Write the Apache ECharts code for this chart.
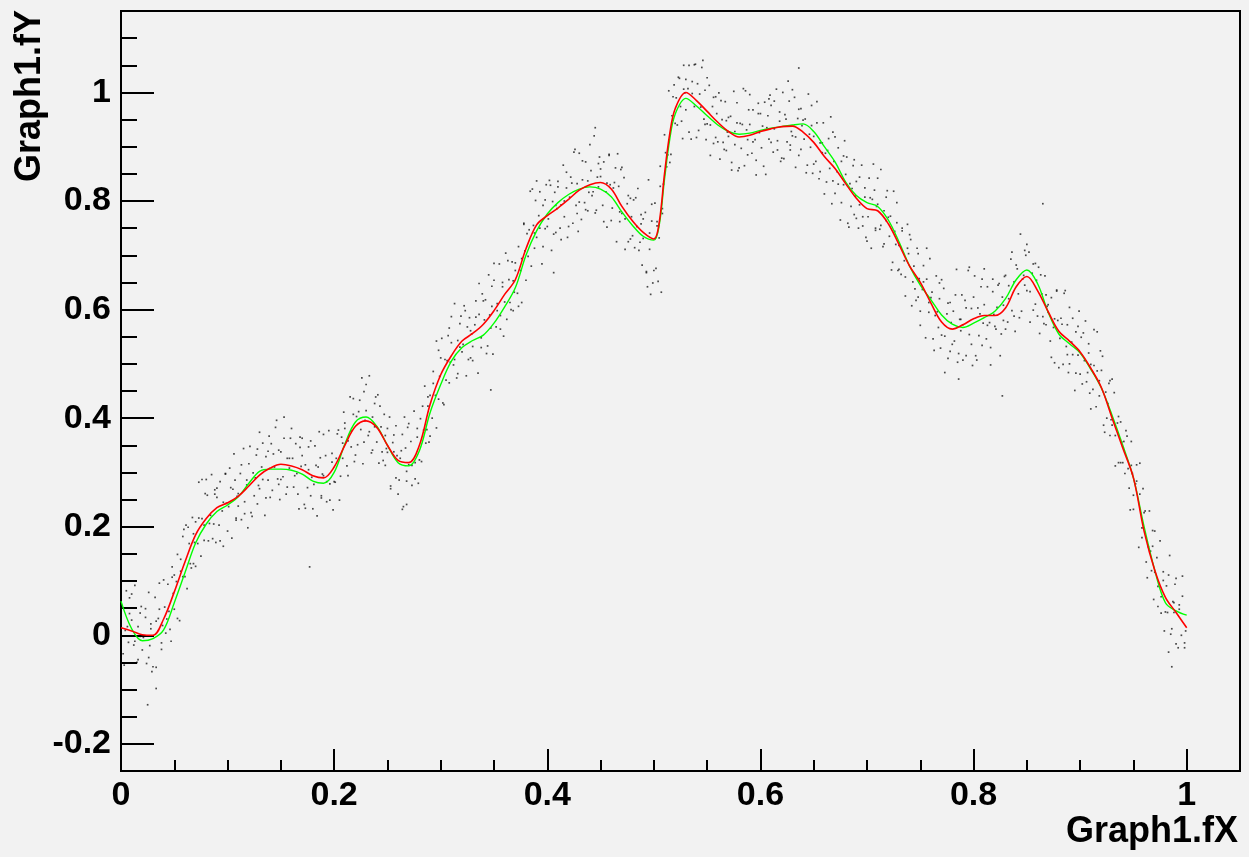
<!DOCTYPE html>
<html>
<head>
<meta charset="utf-8">
<script src="https://cdn.jsdelivr.net/npm/echarts@6/dist/echarts.min.js"></script>
<style>
html,body{margin:0;padding:0;background:#f2f2f2;}
#c{width:1249px;height:857px;}
</style>
</head>
<body>
<div id="c"></div>
<script>
// ---- data ----
const curveX = [0,0.01,0.02,0.03,0.04,0.05,0.06,0.07,0.08,0.09,
0.10,0.11,0.12,0.13,0.14,0.15,0.16,0.17,0.18,0.19,
0.20,0.21,0.22,0.23,0.24,0.25,0.26,0.27,0.28,0.29,
0.30,0.31,0.32,0.33,0.34,0.35,0.36,0.37,0.38,0.39,
0.40,0.41,0.42,0.43,0.44,0.45,0.46,0.47,0.48,0.49,
0.50,0.505,0.51,0.515,0.52,0.53,0.54,0.55,0.56,0.57,0.58,
0.59,0.60,0.61,0.62,0.63,0.64,0.65,0.66,0.67,0.68,0.69,
0.70,0.71,0.72,0.73,0.74,0.75,0.76,0.77,0.78,0.79,
0.80,0.81,0.82,0.83,0.84,0.85,0.86,0.87,0.88,0.89,
0.90,0.91,0.92,0.93,0.94,0.95,0.96,0.97,0.98,0.99,1.00];

const redY = [0.014,0.008,0.001,0.000,0.030,0.080,0.135,0.185,0.215,0.235,
0.244,0.256,0.275,0.295,0.308,0.315,0.312,0.305,0.294,0.290,
0.310,0.350,0.385,0.395,0.383,0.350,0.322,0.318,0.350,0.425,
0.480,0.515,0.542,0.556,0.573,0.598,0.628,0.655,0.712,0.756,
0.773,0.787,0.803,0.820,0.830,0.834,0.822,0.790,0.763,0.742,
0.730,0.760,0.850,0.925,0.970,1.000,0.985,0.965,0.945,0.928,0.918,
0.921,0.928,0.933,0.937,0.938,0.927,0.908,0.882,0.860,0.832,0.805,
0.786,0.782,0.758,0.720,0.680,0.650,0.612,0.577,0.564,0.572,
0.583,0.589,0.589,0.603,0.642,0.661,0.635,0.596,0.560,0.542,
0.522,0.492,0.456,0.400,0.345,0.290,0.192,0.120,0.070,0.042,0.014];

const greenY = [0.063,0.012,-0.010,-0.006,0.010,0.060,0.115,0.170,0.205,0.228,
0.240,0.255,0.280,0.302,0.306,0.306,0.304,0.297,0.284,0.280,
0.300,0.352,0.393,0.402,0.385,0.350,0.318,0.312,0.340,0.410,
0.462,0.505,0.530,0.543,0.553,0.575,0.605,0.640,0.700,0.745,
0.776,0.797,0.812,0.822,0.826,0.822,0.808,0.780,0.755,0.735,
0.728,0.755,0.840,0.915,0.960,0.989,0.975,0.957,0.940,0.928,0.923,
0.925,0.930,0.934,0.937,0.940,0.942,0.928,0.900,0.872,0.835,0.810,
0.797,0.790,0.765,0.725,0.680,0.645,0.618,0.590,0.573,0.567,
0.575,0.585,0.597,0.620,0.655,0.673,0.648,0.595,0.555,0.537,
0.520,0.490,0.455,0.405,0.350,0.290,0.200,0.120,0.060,0.045,0.037];

const dots = [
[0.001,0.052],[0.002,-0.034],[0.004,0.009],[0.005,0.082],[0.007,-0.013],[0.008,0.040],[0.009,-0.051],
[0.010,0.028],[0.012,-0.018],[0.013,0.092],[0.015,-0.050],[0.016,0.016],[0.018,-0.002],[0.019,0.053],
[0.021,-0.004],[0.023,0.033],[0.024,-0.052],[0.026,0.079],[0.027,-0.019],[0.028,0.021],[0.029,-0.067],[0.025,-0.128],
[0.030,-0.001],[0.032,0.070],[0.033,-0.059],[0.035,0.031],[0.036,0.048],[0.038,-0.026],[0.039,0.018],[0.033,-0.098],
[0.041,0.052],[0.042,0.004],[0.044,0.094],[0.045,0.044],[0.047,-0.011],[0.048,0.126],[0.049,0.077],
[0.050,0.048],[0.052,0.099],[0.053,0.149],[0.055,0.027],[0.056,0.140],[0.058,0.108],[0.059,0.195],
[0.061,0.203],[0.062,0.086],[0.064,0.169],[0.065,0.132],[0.067,0.217],[0.068,0.132],[0.069,0.171],
[0.070,0.209],[0.072,0.169],[0.073,0.282],[0.075,0.146],[0.076,0.215],[0.078,0.203],[0.079,0.261],
[0.081,0.258],[0.082,0.174],[0.084,0.221],[0.085,0.296],[0.087,0.205],[0.088,0.260],[0.089,0.171],
[0.090,0.254],[0.092,0.203],[0.093,0.283],[0.095,0.229],[0.096,0.164],[0.098,0.297],[0.099,0.243],
[0.101,0.237],[0.102,0.308],[0.104,0.179],[0.105,0.269],[0.107,0.286],[0.108,0.212],[0.109,0.256],
[0.110,0.261],[0.112,0.298],[0.113,0.213],[0.115,0.344],[0.116,0.246],[0.118,0.286],[0.119,0.198],
[0.121,0.348],[0.122,0.226],[0.124,0.299],[0.125,0.257],[0.127,0.332],[0.128,0.242],[0.129,0.276],
[0.130,0.270],[0.132,0.310],[0.133,0.354],[0.135,0.221],[0.136,0.329],[0.138,0.286],[0.139,0.367],
[0.141,0.353],[0.142,0.267],[0.144,0.310],[0.145,0.383],[0.147,0.288],[0.148,0.341],[0.149,0.250],
[0.150,0.338],[0.152,0.292],[0.153,0.402],[0.155,0.260],[0.156,0.326],[0.158,0.308],[0.159,0.363],
[0.161,0.326],[0.162,0.273],[0.164,0.353],[0.165,0.298],[0.167,0.233],[0.168,0.365],[0.169,0.311],
[0.170,0.363],[0.172,0.241],[0.173,0.314],[0.175,0.272],[0.176,0.347],[0.178,0.257],[0.179,0.291],[0.177,0.126],
[0.181,0.278],[0.182,0.349],[0.184,0.220],[0.185,0.310],[0.187,0.327],[0.188,0.253],[0.189,0.297],
[0.190,0.294],[0.192,0.331],[0.193,0.246],[0.195,0.377],[0.196,0.279],[0.198,0.319],[0.199,0.231],
[0.201,0.282],[0.202,0.326],[0.204,0.378],[0.205,0.249],[0.207,0.365],[0.208,0.326],[0.209,0.411],
[0.210,0.391],[0.212,0.312],[0.213,0.358],[0.215,0.439],[0.216,0.347],[0.218,0.407],[0.219,0.320],
[0.221,0.403],[0.222,0.351],[0.224,0.433],[0.225,0.379],[0.227,0.316],[0.228,0.449],[0.229,0.396],
[0.230,0.414],[0.232,0.368],[0.233,0.478],[0.235,0.336],[0.236,0.402],[0.238,0.384],[0.239,0.439],
[0.241,0.443],[0.242,0.317],[0.244,0.384],[0.245,0.338],[0.247,0.407],[0.248,0.313],[0.249,0.344],
[0.250,0.337],[0.252,0.402],[0.253,0.270],[0.255,0.355],[0.256,0.369],[0.258,0.290],[0.259,0.331],
[0.261,0.286],[0.262,0.326],[0.264,0.370],[0.265,0.237],[0.267,0.345],[0.268,0.302],[0.269,0.383],[0.264,0.232],[0.268,0.241],
[0.270,0.314],[0.272,0.357],[0.273,0.276],[0.275,0.413],[0.276,0.318],[0.278,0.365],[0.279,0.280],
[0.281,0.399],[0.282,0.320],[0.284,0.378],[0.285,0.459],[0.287,0.379],[0.288,0.439],[0.289,0.356],
[0.290,0.442],[0.292,0.400],[0.293,0.486],[0.295,0.442],[0.296,0.382],[0.298,0.525],[0.299,0.477],
[0.301,0.547],[0.302,0.428],[0.304,0.508],[0.305,0.470],[0.307,0.552],[0.308,0.465],[0.309,0.503],
[0.310,0.539],[0.312,0.498],[0.313,0.611],[0.315,0.474],[0.316,0.543],[0.318,0.531],[0.319,0.588],
[0.321,0.536],[0.322,0.607],[0.324,0.478],[0.325,0.568],[0.327,0.585],[0.328,0.511],[0.329,0.555],
[0.330,0.532],[0.332,0.572],[0.333,0.616],[0.335,0.483],[0.336,0.591],[0.338,0.548],[0.339,0.629],
[0.341,0.581],[0.342,0.618],[0.344,0.533],[0.345,0.664],[0.347,0.566],[0.348,0.606],[0.349,0.518],[0.347,0.452],
[0.350,0.654],[0.352,0.568],[0.353,0.611],[0.355,0.684],[0.356,0.589],[0.358,0.642],[0.359,0.551],
[0.361,0.704],[0.362,0.582],[0.364,0.655],[0.365,0.613],[0.367,0.688],[0.368,0.598],[0.369,0.632],
[0.370,0.672],[0.372,0.630],[0.373,0.716],[0.375,0.672],[0.376,0.613],[0.378,0.757],[0.379,0.708],
[0.381,0.740],[0.382,0.698],[0.384,0.818],[0.385,0.680],[0.387,0.755],[0.388,0.741],[0.389,0.801],
[0.390,0.733],[0.392,0.773],[0.393,0.817],[0.395,0.684],[0.396,0.792],[0.398,0.749],[0.399,0.830],
[0.401,0.767],[0.402,0.838],[0.404,0.709],[0.405,0.799],[0.407,0.816],[0.408,0.742],[0.409,0.786],[0.406,0.668],
[0.410,0.836],[0.412,0.750],[0.413,0.793],[0.415,0.866],[0.416,0.771],[0.418,0.824],[0.419,0.733],
[0.421,0.807],[0.422,0.844],[0.424,0.759],[0.425,0.890],[0.427,0.792],[0.428,0.832],[0.429,0.744],
[0.430,0.888],[0.432,0.766],[0.433,0.839],[0.435,0.797],[0.436,0.872],[0.438,0.782],[0.439,0.816],
[0.441,0.856],[0.442,0.810],[0.444,0.920],[0.445,0.778],[0.447,0.844],[0.448,0.826],[0.449,0.881],[0.445,0.935],
[0.450,0.845],[0.452,0.792],[0.453,0.872],[0.455,0.817],[0.456,0.752],[0.458,0.884],[0.459,0.830],
[0.461,0.787],[0.462,0.824],[0.464,0.861],[0.465,0.725],[0.467,0.827],[0.468,0.780],[0.469,0.858],
[0.470,0.777],[0.472,0.843],[0.473,0.711],[0.475,0.795],[0.476,0.810],[0.478,0.730],[0.479,0.771],
[0.481,0.802],[0.482,0.714],[0.484,0.753],[0.485,0.823],[0.487,0.724],[0.488,0.775],[0.489,0.682],
[0.490,0.731],[0.492,0.779],[0.493,0.668],[0.495,0.839],[0.496,0.711],[0.498,0.763],[0.499,0.649],[0.497,0.628],[0.494,0.642],
[0.501,0.796],[0.502,0.676],[0.503,0.754],[0.505,0.732],[0.506,0.827],[0.508,0.777],[0.509,0.831],[0.504,0.652],[0.507,0.632],
[0.511,0.889],[0.512,0.863],[0.514,1.003],[0.515,0.871],[0.517,0.957],[0.518,0.949],[0.519,1.014],
[0.521,0.990],[0.522,0.940],[0.524,1.026],[0.525,0.974],[0.527,0.915],[0.528,1.050],[0.529,0.999],
[0.530,0.968],[0.532,1.007],[0.533,1.050],[0.535,0.914],[0.536,1.020],[0.538,0.974],[0.539,1.052],
[0.541,1.016],[0.542,0.930],[0.544,0.973],[0.545,1.046],[0.547,0.951],[0.548,1.004],[0.549,0.913],
[0.550,0.942],[0.552,1.013],[0.553,0.884],[0.555,0.974],[0.556,0.991],[0.558,0.917],[0.559,0.961],
[0.561,0.999],[0.562,0.877],[0.564,0.950],[0.565,0.908],[0.567,0.983],[0.568,0.893],[0.569,0.927],
[0.570,0.919],[0.572,0.956],[0.573,0.871],[0.575,1.002],[0.576,0.904],[0.578,0.944],[0.579,0.856],
[0.581,0.943],[0.582,0.897],[0.584,1.007],[0.585,0.865],[0.587,0.931],[0.588,0.913],[0.589,0.968],
[0.590,0.941],[0.592,0.888],[0.593,0.968],[0.595,0.913],[0.596,0.848],[0.598,0.980],[0.599,0.926],
[0.601,0.898],[0.602,0.938],[0.604,0.982],[0.605,0.849],[0.607,0.957],[0.608,0.914],[0.609,0.995],
[0.610,0.976],[0.612,0.890],[0.613,0.933],[0.615,1.006],[0.616,0.911],[0.618,0.964],[0.619,0.873],
[0.621,1.000],[0.622,0.878],[0.624,0.951],[0.625,0.909],[0.627,0.984],[0.628,0.894],[0.629,0.928],
[0.630,0.920],[0.632,0.991],[0.633,0.862],[0.635,0.952],[0.636,0.969],[0.638,0.895],[0.639,0.939],[0.636,1.045],
[0.641,0.914],[0.642,0.951],[0.644,0.866],[0.645,0.997],[0.647,0.899],[0.648,0.939],[0.649,0.851],
[0.650,0.919],[0.652,0.873],[0.653,0.983],[0.655,0.841],[0.656,0.907],[0.658,0.889],[0.659,0.944],
[0.661,0.888],[0.662,0.835],[0.664,0.915],[0.665,0.860],[0.667,0.795],[0.668,0.927],[0.669,0.873],
[0.670,0.814],[0.672,0.854],[0.673,0.898],[0.675,0.765],[0.676,0.873],[0.678,0.830],[0.679,0.911],
[0.681,0.881],[0.682,0.759],[0.684,0.832],[0.685,0.790],[0.687,0.865],[0.688,0.775],[0.689,0.809],
[0.690,0.836],[0.692,0.750],[0.693,0.793],[0.695,0.866],[0.696,0.771],[0.698,0.824],[0.699,0.733],
[0.701,0.771],[0.702,0.842],[0.704,0.713],[0.705,0.803],[0.707,0.820],[0.708,0.746],[0.709,0.790],
[0.710,0.794],[0.712,0.748],[0.713,0.858],[0.715,0.716],[0.716,0.782],[0.718,0.764],[0.719,0.819],
[0.721,0.735],[0.722,0.772],[0.724,0.687],[0.725,0.818],[0.727,0.720],[0.728,0.760],[0.729,0.672],
[0.730,0.718],[0.732,0.665],[0.733,0.745],[0.735,0.690],[0.736,0.625],[0.738,0.757],[0.739,0.703],
[0.741,0.729],[0.742,0.607],[0.744,0.680],[0.745,0.638],[0.747,0.713],[0.748,0.623],[0.749,0.657],
[0.750,0.597],[0.752,0.637],[0.753,0.681],[0.755,0.548],[0.756,0.656],[0.758,0.613],[0.759,0.694],
[0.761,0.632],[0.762,0.546],[0.764,0.589],[0.765,0.662],[0.767,0.567],[0.768,0.620],[0.769,0.529],
[0.770,0.553],[0.772,0.639],[0.773,0.484],[0.775,0.592],[0.776,0.612],[0.778,0.523],[0.779,0.576],
[0.781,0.597],[0.782,0.542],[0.784,0.674],[0.785,0.503],[0.787,0.582],[0.788,0.561],[0.789,0.627],[0.786,0.472],
[0.790,0.572],[0.792,0.617],[0.793,0.515],[0.795,0.672],[0.796,0.554],[0.798,0.602],[0.799,0.497],
[0.801,0.662],[0.802,0.515],[0.804,0.603],[0.805,0.552],[0.807,0.642],[0.808,0.534],[0.809,0.575],
[0.810,0.609],[0.812,0.546],[0.813,0.642],[0.815,0.576],[0.816,0.498],[0.818,0.656],[0.819,0.591],
[0.821,0.564],[0.822,0.604],[0.824,0.648],[0.825,0.515],[0.827,0.623],[0.828,0.580],[0.829,0.661],[0.827,0.441],
[0.830,0.663],[0.832,0.577],[0.833,0.620],[0.835,0.693],[0.836,0.598],[0.838,0.651],[0.839,0.560],
[0.841,0.675],[0.842,0.629],[0.844,0.739],[0.845,0.597],[0.847,0.663],[0.848,0.645],[0.849,0.700],
[0.850,0.635],[0.852,0.706],[0.853,0.577],[0.855,0.667],[0.856,0.684],[0.858,0.610],[0.859,0.654],
[0.861,0.678],[0.862,0.556],[0.864,0.629],[0.865,0.587],[0.867,0.662],[0.868,0.572],[0.869,0.606],[0.865,0.795],
[0.870,0.595],[0.872,0.542],[0.873,0.622],[0.875,0.567],[0.876,0.502],[0.878,0.634],[0.879,0.580],
[0.881,0.547],[0.882,0.584],[0.884,0.499],[0.885,0.630],[0.887,0.532],[0.888,0.572],[0.889,0.484],
[0.890,0.500],[0.892,0.540],[0.893,0.584],[0.895,0.451],[0.896,0.559],[0.898,0.516],[0.899,0.597],
[0.901,0.549],[0.902,0.463],[0.904,0.506],[0.905,0.579],[0.907,0.484],[0.908,0.537],[0.909,0.446],
[0.910,0.499],[0.912,0.453],[0.913,0.563],[0.915,0.421],[0.916,0.487],[0.918,0.469],[0.919,0.524],
[0.921,0.514],[0.922,0.387],[0.924,0.448],[0.925,0.400],[0.927,0.464],[0.928,0.368],[0.929,0.397],
[0.930,0.387],[0.932,0.447],[0.933,0.312],[0.935,0.391],[0.936,0.403],[0.938,0.318],[0.939,0.356],
[0.941,0.357],[0.942,0.298],[0.944,0.367],[0.945,0.307],[0.947,0.231],[0.948,0.357],[0.949,0.298],
[0.950,0.258],[0.952,0.279],[0.953,0.314],[0.955,0.162],[0.956,0.260],[0.958,0.198],[0.959,0.270],
[0.961,0.229],[0.962,0.135],[0.964,0.163],[0.965,0.229],[0.967,0.119],[0.968,0.164],[0.969,0.066],
[0.970,0.116],[0.972,0.143],[0.973,0.053],[0.975,0.174],[0.976,0.071],[0.978,0.101],[0.979,0.008],
[0.981,0.091],[0.982,0.042],[0.984,0.147],[0.985,0.002],[0.987,0.062],[0.988,0.042],[0.989,0.094],[0.986,-0.058],[0.983,-0.031],
[0.990,0.105],[0.992,-0.023],[0.993,0.048],[0.995,0.000],[0.996,0.072],[0.998,-0.023],[0.999,0.008]
];

const dotsMore = [
[0.000,0.042],[0.003,-0.055],[0.006,0.016],[0.008,0.069],
[0.010,0.076],[0.013,-0.011],[0.016,-0.045],[0.018,0.041],
[0.020,-0.027],[0.023,0.049],[0.026,-0.041],[0.028,0.012],
[0.030,-0.058],[0.033,0.026],[0.036,0.096],[0.038,-0.014],
[0.040,0.102],[0.043,0.030],[0.046,0.011],[0.048,0.107],
[0.050,0.111],[0.053,0.031],[0.056,0.118],[0.058,0.182],
[0.060,0.108],[0.063,0.199],[0.066,0.124],[0.068,0.187],
[0.070,0.127],[0.073,0.216],[0.076,0.287],[0.078,0.175],
[0.080,0.287],[0.083,0.206],[0.086,0.178],[0.088,0.268],
[0.090,0.271],[0.093,0.174],[0.096,0.245],[0.098,0.298],
[0.100,0.192],[0.103,0.272],[0.106,0.334],[0.108,0.216],
[0.110,0.238],[0.113,0.314],[0.116,0.224],[0.118,0.277],
[0.120,0.316],[0.123,0.219],[0.126,0.290],[0.128,0.343],
[0.130,0.374],[0.133,0.287],[0.136,0.253],[0.138,0.339],
[0.140,0.254],[0.143,0.334],[0.146,0.396],[0.148,0.278],
[0.150,0.287],[0.153,0.363],[0.156,0.273],[0.158,0.326],
[0.160,0.381],[0.163,0.294],[0.166,0.260],[0.168,0.346],
[0.170,0.331],[0.173,0.234],[0.176,0.305],[0.178,0.358],
[0.180,0.233],[0.183,0.313],[0.186,0.375],[0.188,0.257],
[0.190,0.370],[0.193,0.283],[0.196,0.249],[0.198,0.335],
[0.200,0.283],[0.203,0.371],[0.206,0.293],[0.208,0.354],
[0.210,0.381],[0.213,0.294],[0.216,0.376],[0.218,0.436],
[0.220,0.332],[0.223,0.412],[0.226,0.474],[0.228,0.356],
[0.230,0.462],[0.233,0.375],[0.236,0.341],[0.238,0.427],
[0.240,0.356],[0.243,0.422],[0.246,0.322],[0.248,0.368],
[0.250,0.381],[0.253,0.275],[0.256,0.338],[0.258,0.386],
[0.260,0.260],[0.263,0.340],[0.266,0.402],[0.268,0.284],
[0.270,0.390],[0.273,0.313],[0.276,0.288],[0.278,0.381],
[0.280,0.323],[0.283,0.422],[0.286,0.354],[0.288,0.422],
[0.290,0.367],[0.293,0.464],[0.296,0.542],[0.298,0.435],
[0.300,0.511],[0.303,0.425],[0.306,0.506],[0.308,0.566],
[0.310,0.587],[0.313,0.508],[0.316,0.482],[0.318,0.574],
[0.320,0.522],[0.323,0.598],[0.326,0.508],[0.328,0.561],
[0.330,0.506],[0.333,0.586],[0.336,0.648],[0.338,0.530],
[0.340,0.616],[0.343,0.519],[0.346,0.590],[0.348,0.643],
[0.350,0.685],[0.353,0.598],[0.356,0.564],[0.358,0.650],
[0.360,0.614],[0.363,0.690],[0.366,0.600],[0.368,0.653],
[0.370,0.686],[0.373,0.606],[0.376,0.694],[0.378,0.759],
[0.380,0.654],[0.383,0.747],[0.386,0.822],[0.388,0.713],
[0.390,0.837],[0.393,0.750],[0.396,0.716],[0.398,0.802],
[0.400,0.753],[0.403,0.829],[0.406,0.739],[0.408,0.792],
[0.410,0.826],[0.413,0.729],[0.416,0.800],[0.418,0.853],
[0.420,0.753],[0.423,0.833],[0.426,0.895],[0.428,0.777],
[0.430,0.798],[0.433,0.874],[0.436,0.784],[0.438,0.837],
[0.440,0.904],[0.443,0.817],[0.446,0.783],[0.448,0.869],
[0.450,0.859],[0.453,0.762],[0.456,0.833],[0.458,0.886],
[0.460,0.764],[0.463,0.834],[0.466,0.887],[0.468,0.762],
[0.470,0.862],[0.473,0.767],[0.476,0.725],[0.478,0.805],
[0.480,0.736],[0.483,0.806],[0.486,0.709],[0.488,0.758],
[0.490,0.767],[0.493,0.670],[0.496,0.741],[0.498,0.794],
[0.500,0.672],[0.503,0.762],[0.506,0.864],[0.508,0.786],
[0.510,0.922],[0.513,0.885],[0.516,0.886],[0.518,0.992],
[0.520,0.943],[0.523,1.028],[0.526,0.947],[0.528,1.006],
[0.530,1.024],[0.533,0.927],[0.536,0.998],[0.538,1.051],
[0.540,0.917],[0.543,0.997],[0.546,1.059],[0.548,0.941],
[0.550,1.027],[0.553,0.940],[0.556,0.906],[0.558,0.992],
[0.560,0.909],[0.563,0.985],[0.566,0.895],[0.568,0.948],
[0.570,0.954],[0.573,0.857],[0.576,0.928],[0.578,0.981],
[0.580,0.861],[0.583,0.941],[0.586,1.003],[0.588,0.885],
[0.590,0.996],[0.593,0.909],[0.596,0.875],[0.598,0.961],
[0.600,0.961],[0.603,0.864],[0.606,0.935],[0.608,0.988],
[0.610,0.908],[0.613,0.984],[0.616,0.894],[0.618,0.947],
[0.620,0.879],[0.623,0.959],[0.626,1.021],[0.628,0.903],
[0.630,1.005],[0.633,0.918],[0.636,0.884],[0.638,0.970],
[0.640,0.949],[0.643,0.852],[0.646,0.923],[0.648,0.976],
[0.650,0.868],[0.653,0.944],[0.656,0.854],[0.658,0.907],
[0.660,0.813],[0.663,0.893],[0.666,0.955],[0.668,0.837],
[0.670,0.918],[0.673,0.831],[0.676,0.797],[0.678,0.883],
[0.680,0.849],[0.683,0.752],[0.686,0.823],[0.688,0.876],
[0.690,0.768],[0.693,0.844],[0.696,0.754],[0.698,0.807],
[0.700,0.726],[0.703,0.806],[0.706,0.868],[0.708,0.750],
[0.710,0.842],[0.713,0.755],[0.716,0.721],[0.718,0.807],
[0.720,0.770],[0.723,0.673],[0.726,0.744],[0.728,0.797],
[0.730,0.674],[0.733,0.750],[0.736,0.660],[0.738,0.713],
[0.740,0.738],[0.743,0.651],[0.746,0.617],[0.748,0.703],
[0.750,0.571],[0.753,0.651],[0.756,0.713],[0.758,0.595],
[0.760,0.622],[0.763,0.525],[0.766,0.596],[0.768,0.649],
[0.770,0.655],[0.773,0.551],[0.776,0.510],[0.778,0.613],
[0.780,0.536],[0.783,0.627],[0.786,0.519],[0.788,0.582],
[0.790,0.507],[0.793,0.603],[0.796,0.678],[0.798,0.536],
[0.800,0.623],[0.803,0.507],[0.806,0.592],[0.808,0.656],
[0.810,0.675],[0.813,0.571],[0.816,0.530],[0.818,0.633],
[0.820,0.569],[0.823,0.645],[0.826,0.555],[0.828,0.608],
[0.830,0.564],[0.833,0.644],[0.836,0.706],[0.838,0.588],
[0.840,0.682],[0.843,0.585],[0.846,0.656],[0.848,0.709],
[0.850,0.720],[0.853,0.633],[0.856,0.599],[0.858,0.685],
[0.860,0.588],[0.863,0.664],[0.866,0.574],[0.868,0.627],
[0.870,0.609],[0.873,0.512],[0.876,0.583],[0.878,0.636],
[0.880,0.493],[0.883,0.573],[0.886,0.635],[0.888,0.517],
[0.890,0.604],[0.893,0.517],[0.896,0.483],[0.898,0.569],
[0.900,0.481],[0.903,0.557],[0.906,0.467],[0.908,0.520],
[0.910,0.417],[0.913,0.497],[0.916,0.559],[0.918,0.441],
[0.920,0.488],[0.923,0.374],[0.926,0.427],[0.928,0.469],
[0.930,0.472],[0.933,0.368],[0.936,0.318],[0.938,0.393],
[0.940,0.318],[0.943,0.377],[0.946,0.271],[0.948,0.313],
[0.950,0.232],[0.953,0.284],[0.956,0.317],[0.958,0.180],
[0.960,0.226],[0.963,0.106],[0.966,0.155],[0.968,0.193],
[0.970,0.192],[0.973,0.090],[0.976,0.041],[0.978,0.117],
[0.980,0.043],[0.983,0.111],[0.986,0.012],[0.988,0.060],
[0.990,-0.016],[0.993,0.056],[0.996,0.109],[0.998,-0.014]
];

const xMajorTicks = [0,0.2,0.4,0.6,0.8,1];
const xMinorTicks = [0.05,0.1,0.15,0.25,0.3,0.35,0.45,0.5,0.55,0.65,0.7,0.75,0.85,0.9,0.95];
const yMajorTicks = [-0.2,0,0.2,0.4,0.6,0.8,1];
const yMinorTicks = [-0.15,-0.1,-0.05,0.05,0.1,0.15,0.25,0.3,0.35,0.45,0.5,0.55,0.65,0.7,0.75,0.85,0.9,0.95,1.05,1.1];
const xTitle = 'Graph1.fX';
const yTitle = 'Graph1.fY';

// ---- chart ----
const FONT = 'Liberation Sans';
const FS = 34;
const TFS = 36;
const fmt = v => String(Math.round(v * 10) / 10);
const tickStyle = {color: '#000', width: 2};
const labelStyle = {color: '#000', fontFamily: FONT, fontWeight: 'bold', fontSize: FS};

const chart = echarts.init(document.getElementById('c'), null, {renderer: 'canvas'});
chart.setOption({
  backgroundColor: '#f2f2f2',
  animation: false,
  grid: {left: 121, top: 11, right: 9, bottom: 86, show: true, borderColor: '#000', borderWidth: 2, backgroundColor: '#f2f2f2'},
  xAxis: [
    {type: 'value', min: 0, max: 1.05, interval: 0.2, position: 'bottom',
     axisLine: {show: true, onZero: false, lineStyle: tickStyle},
     axisTick: {show: true, inside: true, length: 22, lineStyle: tickStyle, customValues: xMajorTicks},
     axisLabel: Object.assign({margin: 8, formatter: fmt, customValues: xMajorTicks}, labelStyle),
     splitLine: {show: false}},
    {type: 'value', min: 0, max: 1.05, interval: 0.05, position: 'bottom',
     axisLine: {show: false, onZero: false},
     axisTick: {show: true, inside: true, length: 11, lineStyle: tickStyle, customValues: xMinorTicks},
     axisLabel: {show: false}, splitLine: {show: false}}
  ],
  yAxis: [
    {type: 'value', min: -0.25, max: 1.15, splitNumber: 7, position: 'left',
     axisLine: {show: true, onZero: false, lineStyle: tickStyle},
     axisTick: {show: true, inside: true, length: 33, lineStyle: tickStyle, customValues: yMajorTicks},
     axisLabel: Object.assign({margin: 10, formatter: fmt, customValues: yMajorTicks}, labelStyle),
     splitLine: {show: false}},
    {type: 'value', min: -0.25, max: 1.15, interval: 0.05, position: 'left',
     axisLine: {show: false, onZero: false},
     axisTick: {show: true, inside: true, length: 16, lineStyle: tickStyle, customValues: yMinorTicks},
     axisLabel: {show: false}, splitLine: {show: false}}
  ],
  graphic: [
    {type: 'text', x: 1238, y: 832, silent: true,
     style: {text: xTitle, font: 'bold ' + TFS + 'px "' + FONT + '"', fill: '#000', align: 'right', verticalAlign: 'middle'}},
    {type: 'text', x: 30, y: 10, rotation: Math.PI / 2, silent: true,
     style: {text: yTitle, font: 'bold ' + TFS + 'px "' + FONT + '"', fill: '#000', align: 'right', verticalAlign: 'middle'}}
  ],
  series: [
    {type: 'scatter', data: dots.concat(dotsMore), symbol: 'rect', symbolSize: 1.7, silent: true, xAxisIndex: 0, yAxisIndex: 0,
     itemStyle: {color: '#000', opacity: 0.7}, z: 1},
    {type: 'line', data: curveX.map((x, i) => [x, greenY[i]]), showSymbol: false, smooth: 0.35, silent: true,
     xAxisIndex: 0, yAxisIndex: 0, lineStyle: {color: '#00ff00', width: 1.4}, z: 2},
    {type: 'line', data: curveX.map((x, i) => [x, redY[i]]), showSymbol: false, smooth: 0.35, silent: true,
     xAxisIndex: 0, yAxisIndex: 0, lineStyle: {color: '#ff0000', width: 1.6}, z: 3}
  ]
});
</script>
</body>
</html>
